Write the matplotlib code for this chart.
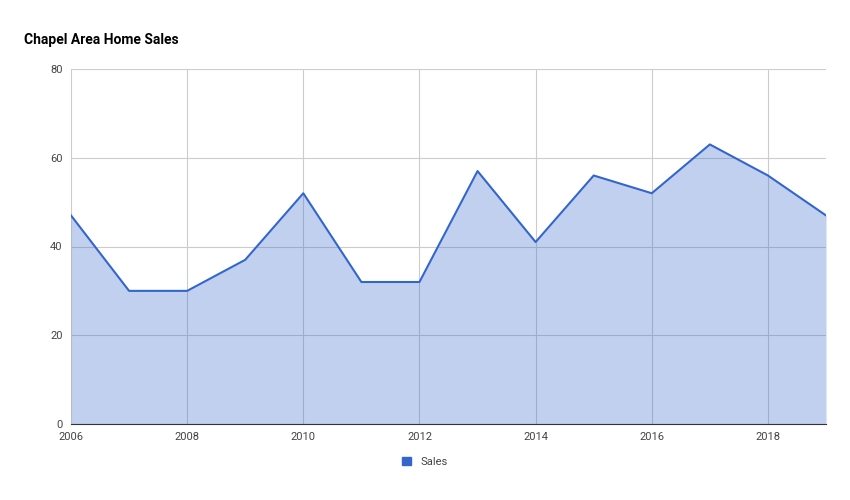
import matplotlib.pyplot as plt
from matplotlib.patches import Patch

years = [2006, 2007, 2008, 2009, 2010, 2011, 2012, 2013, 2014, 2015, 2016, 2017, 2018, 2019]
sales = [47, 30, 30, 37, 52, 32, 32, 57, 41, 56, 52, 63, 56, 47]

plt.rcParams['font.family'] = ['Roboto', 'DejaVu Sans']
fig = plt.figure(figsize=(8.5, 5), dpi=100)
ax = fig.add_axes([71/850, 1-424/500, 755/850, 355/500])

ax.fill_between(years, sales, 0, color='#3366cc', alpha=0.3, linewidth=0)
ax.plot(years, sales, color='#3366cc', linewidth=1.5)

ax.set_xlim(2006, 2019)
ax.set_ylim(0, 80)
ax.set_xticks(range(2006, 2019, 2))
ax.set_yticks([0, 20, 40, 60, 80])
ax.grid(True, color='#cccccc', linewidth=0.8)
ax.set_axisbelow(True)
for s in ['top', 'right', 'left']:
    ax.spines[s].set_visible(False)
ax.spines['bottom'].set_color('#333333')
ax.tick_params(length=0, labelsize=8, colors='#444444', pad=6)

fig.text(24/850, 1-40/500, 'Chapel Area Home Sales', fontsize=10, fontweight='bold', va='center')
fig.legend(handles=[Patch(color='#3366cc', label='Sales')], loc='center',
           bbox_to_anchor=(0.5, 1-462/500), frameon=False, fontsize=8,
           handlelength=0.8, handleheight=0.8, labelcolor='#444444')

fig.savefig('out.png', dpi=100)
